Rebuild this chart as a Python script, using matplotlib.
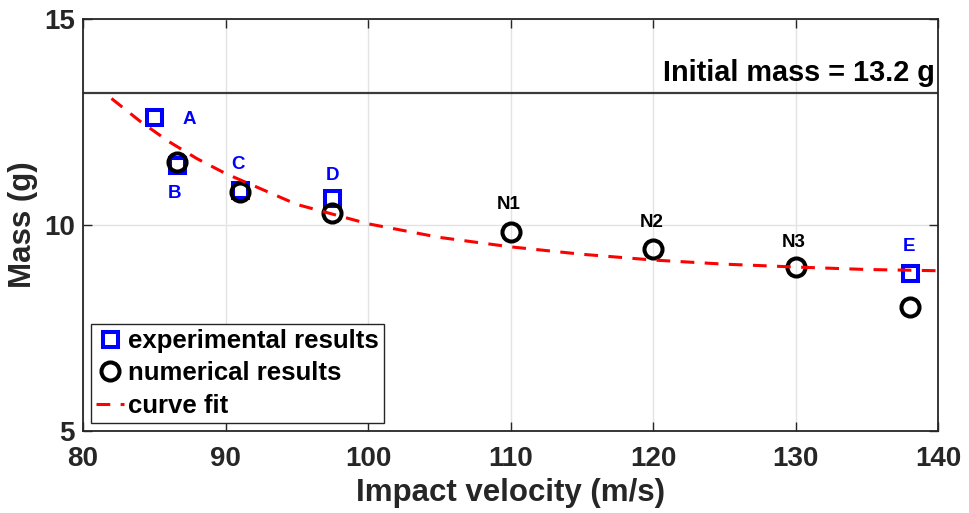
import matplotlib
matplotlib.use("Agg")
import matplotlib.pyplot as plt

plt.rcParams['font.family'] = ['Liberation Sans', 'DejaVu Sans']
plt.rcParams['font.weight'] = 'bold'

# ---- data ----
exp_v = [85.0, 86.6, 91.0, 97.5, 138.0]
exp_m = [12.62, 11.46, 10.85, 10.65, 8.83]
exp_labels = ['A', 'B', 'C', 'D', 'E']

num_v = [86.6, 91.0, 97.5, 110.0, 120.0, 130.0, 138.0]
num_m = [11.54, 10.81, 10.30, 9.84, 9.42, 8.97, 8.00]
num_labels = ['N1', 'N2', 'N3']

fit_v = [82, 84, 86, 88, 90, 95, 100, 105, 110, 115, 120, 125, 130, 135, 140]
fit_m = [13.07, 12.52, 12.03, 11.61, 11.25, 10.50, 10.03, 9.70, 9.47, 9.29,
         9.15, 9.05, 8.98, 8.92, 8.89]

initial_mass = 13.2
x_ticks = [80, 90, 100, 110, 120, 130, 140]
y_ticks = [5, 10, 15]

# label positions (layout)
exp_label_pos = [(87.46, 12.57), (86.39, 10.77), (90.90, 11.46), (97.49, 11.21), (137.96, 9.47)]
num_label_pos = [(109.85, 10.49), (119.91, 10.06), (129.89, 9.58)]

# ---- figure ----
fig = plt.figure(figsize=(9.69, 5.13), dpi=100)
ax = fig.add_axes([83/969, 82/513, 855/969, 412/513])

dark = '#262626'
ax.grid(True, color='#e3e3e3', linewidth=1.0)
ax.set_axisbelow(True)

ax.axhline(initial_mass, color='#3a3a3a', linewidth=1.6, zorder=2)
ax.text(139.75, initial_mass + 0.15, 'Initial mass = 13.2 g', ha='right', va='bottom',
        fontsize=20.8, fontweight='bold', color='black')

ax.plot(exp_v, exp_m, linestyle='none', marker='s', markersize=10.8,
        markerfacecolor='none', markeredgecolor='#0000ff', markeredgewidth=2.9,
        label='experimental results', zorder=3)
ax.plot(num_v, num_m, linestyle='none', marker='o', markersize=13,
        markerfacecolor='none', markeredgecolor='black', markeredgewidth=2.9,
        label='numerical results', zorder=4)
ax.plot(fit_v, fit_m, color='#ff0000', linewidth=2.2, linestyle=(0, (4.5, 3.4)),
        label='curve fit', zorder=5)

for lab, (x, y) in zip(exp_labels, exp_label_pos):
    ax.text(x, y, lab, ha='center', va='center', fontsize=13.5, fontweight='bold', color='#0000ff')
for lab, (x, y) in zip(num_labels, num_label_pos):
    ax.text(x, y, lab, ha='center', va='center', fontsize=13.5, fontweight='bold', color='black')

ax.set_xlim(80, 140)
ax.set_ylim(5, 15)
ax.set_xticks(x_ticks)
ax.set_yticks(y_ticks)
ax.tick_params(direction='in', length=6.5, width=1.0, top=True, right=True,
               labelsize=20, colors=dark, labelcolor=dark)
ax.tick_params(axis='x', pad=11)
ax.tick_params(axis='y', pad=6)
for t in ax.get_xticklabels() + ax.get_yticklabels():
    t.set_fontweight('bold')
for s in ax.spines.values():
    s.set_color(dark)
    s.set_linewidth(1.3)

ax.set_xlabel('Impact velocity (m/s)', fontsize=22.5, fontweight='bold', color=dark, labelpad=4)
ax.set_ylabel('Mass (g)', fontsize=22.5, fontweight='bold', color=dark, labelpad=4)

leg = ax.legend(loc='lower left', bbox_to_anchor=(0.009, 0.02), fontsize=18.5,
                frameon=True, fancybox=False, edgecolor=dark, framealpha=1,
                handlelength=1.1, handletextpad=0.15, labelspacing=0.33,
                borderpad=0.2, borderaxespad=0)
leg.get_frame().set_linewidth(1.0)
for t in leg.get_texts():
    t.set_fontweight('bold')

fig.savefig('out.png', dpi=100)
